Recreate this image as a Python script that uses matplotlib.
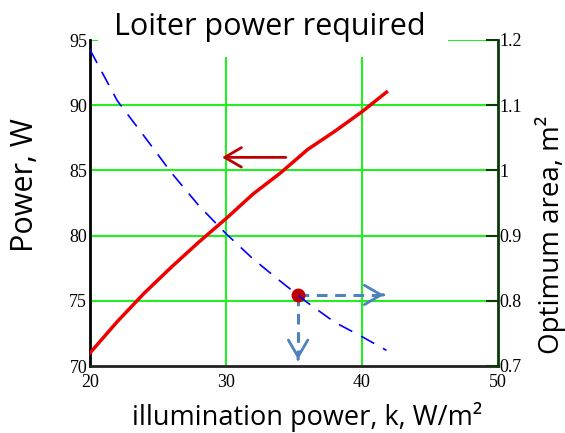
import matplotlib
matplotlib.use("Agg")
import matplotlib.pyplot as plt
from matplotlib.patches import FancyArrowPatch, Rectangle

# ---- data ----
k_vals = [20, 22, 24, 26, 28, 30, 32, 34, 36, 38, 40, 41.8]
power_vals = [71.0, 73.4, 75.6, 77.6, 79.5, 81.3, 83.2, 84.8, 86.6, 88.0, 89.5, 91.0]
area_vals = [1.185, 1.107, 1.052, 0.996, 0.946, 0.903, 0.864, 0.830, 0.797, 0.767, 0.745, 0.724]

x_ticks = [20, 30, 40, 50]
y_ticks = [70, 75, 80, 85, 90, 95]
y2_ticks = [0.7, 0.8, 0.9, 1.0, 1.1, 1.2]
y2_labels = ["0.7", "0.8", "0.9", "1", "1.1", "1.2"]

design_k = 35.3
design_power = 75.45
red_arrow = (34.6, 29.5, 86.0)          # tail k, tip k, power
h_arrow_tip_k = 41.6
v_arrow_tip_p = 70.5

title = "Loiter power required"
xlabel = "illumination power, k, W/m²"
ylabel = "Power, W"
y2label = "Optimum area, m²"

sans = ["Open Sans", "DejaVu Sans"]
serif = "Liberation Serif"
grid_c = "#22ee22"

fig = plt.figure(figsize=(5.65, 4.33), dpi=100)
ax = fig.add_axes([90 / 565, 1 - 366 / 433, 408 / 565, 326 / 433])
ax.set_xlim(20, 50)
ax.set_ylim(70, 95)
ax2 = ax.twinx()
ax2.set_ylim(0.7, 1.2)

# grid
for yv in y_ticks[1:]:
    ax.axhline(yv, color=grid_c, lw=1.5, zorder=1)
for xv in x_ticks[1:-1]:
    ax.axvline(xv, color=grid_c, lw=1.5, zorder=1)

# spines
for a in (ax, ax2):
    a.spines["top"].set_visible(False)
ax.spines["left"].set_color("black")
ax.spines["left"].set_linewidth(2)
ax.spines["bottom"].set_color("#222222")
ax.spines["bottom"].set_linewidth(2)
ax.spines["right"].set_visible(False)
ax2.spines["left"].set_visible(False)
ax2.spines["bottom"].set_visible(False)
ax2.spines["right"].set_color("#0a3a0a")
ax2.spines["right"].set_linewidth(2)

# ticks
ax.set_xticks(x_ticks)
ax.set_xticklabels([str(v) for v in x_ticks], fontfamily=serif, fontsize=13)
ax.set_yticks(y_ticks)
ax.set_yticklabels([str(v) for v in y_ticks], fontfamily=serif, fontsize=13)
ax.tick_params(axis="both", length=0, pad=2)
ax.tick_params(axis="x", pad=6)
ax2.set_yticks(y2_ticks)
ax2.set_yticklabels(y2_labels, fontfamily=serif, fontsize=13)
ax2.tick_params(axis="y", direction="in", length=9, width=1.5, color="#0a3a0a", pad=1)

# curves
ax.plot(k_vals, power_vals, color="#ee0000", lw=2.5, zorder=5)
ax2.plot(k_vals, area_vals, color="#0000ff", lw=1.2, dashes=(9, 6), zorder=5)

# red arrow
ax.add_patch(FancyArrowPatch((red_arrow[0], red_arrow[2]), (red_arrow[1], red_arrow[2]),
                             arrowstyle="->,head_length=0.6,head_width=0.35",
                             mutation_scale=20, color="#c00000", lw=2, zorder=6))

# design point and dashed arrows
blue_c = "#4f81bd"
ax.plot([design_k, h_arrow_tip_k - 0.3], [design_power, design_power],
        color=blue_c, lw=2.2, dashes=(3.5, 2.5), zorder=6)
ax.plot([design_k, design_k], [design_power, v_arrow_tip_p + 0.3],
        color=blue_c, lw=2.2, dashes=(3.5, 2.5), zorder=6)
ax.add_patch(FancyArrowPatch((h_arrow_tip_k - 0.05, design_power), (h_arrow_tip_k, design_power),
                             arrowstyle="->,head_length=0.6,head_width=0.35",
                             mutation_scale=20, color=blue_c, lw=2, zorder=6,
                             shrinkA=0, shrinkB=0))
ax.add_patch(FancyArrowPatch((design_k, v_arrow_tip_p + 0.05), (design_k, v_arrow_tip_p),
                             arrowstyle="->,head_length=0.6,head_width=0.35",
                             mutation_scale=20, color=blue_c, lw=2, zorder=6,
                             shrinkA=0, shrinkB=0))
ax.plot([design_k], [design_power], "o", color="#c00000", ms=9, zorder=7)

# title with white background box
fig.patches.append(Rectangle((98 / 565, 1 - 57 / 433), 350 / 565, 57 / 433,
                             transform=fig.transFigure, facecolor="white",
                             edgecolor="none", zorder=9))
fig.text(270 / 565, 1 - 27 / 433, title, ha="center", va="center", fontsize=22,
         family=sans, zorder=10)
fig.text(307 / 565, 1 - 417 / 433, xlabel, ha="center", va="center", fontsize=19.5, family=sans)
fig.text(25 / 565, 1 - 185 / 433, ylabel, ha="center", va="center", fontsize=22,
         family=sans, rotation=90)
fig.text(550 / 565, 1 - 235 / 433, y2label, ha="center", va="center", fontsize=20,
         family=sans, rotation=90)

fig.savefig("out.png", dpi=100)
